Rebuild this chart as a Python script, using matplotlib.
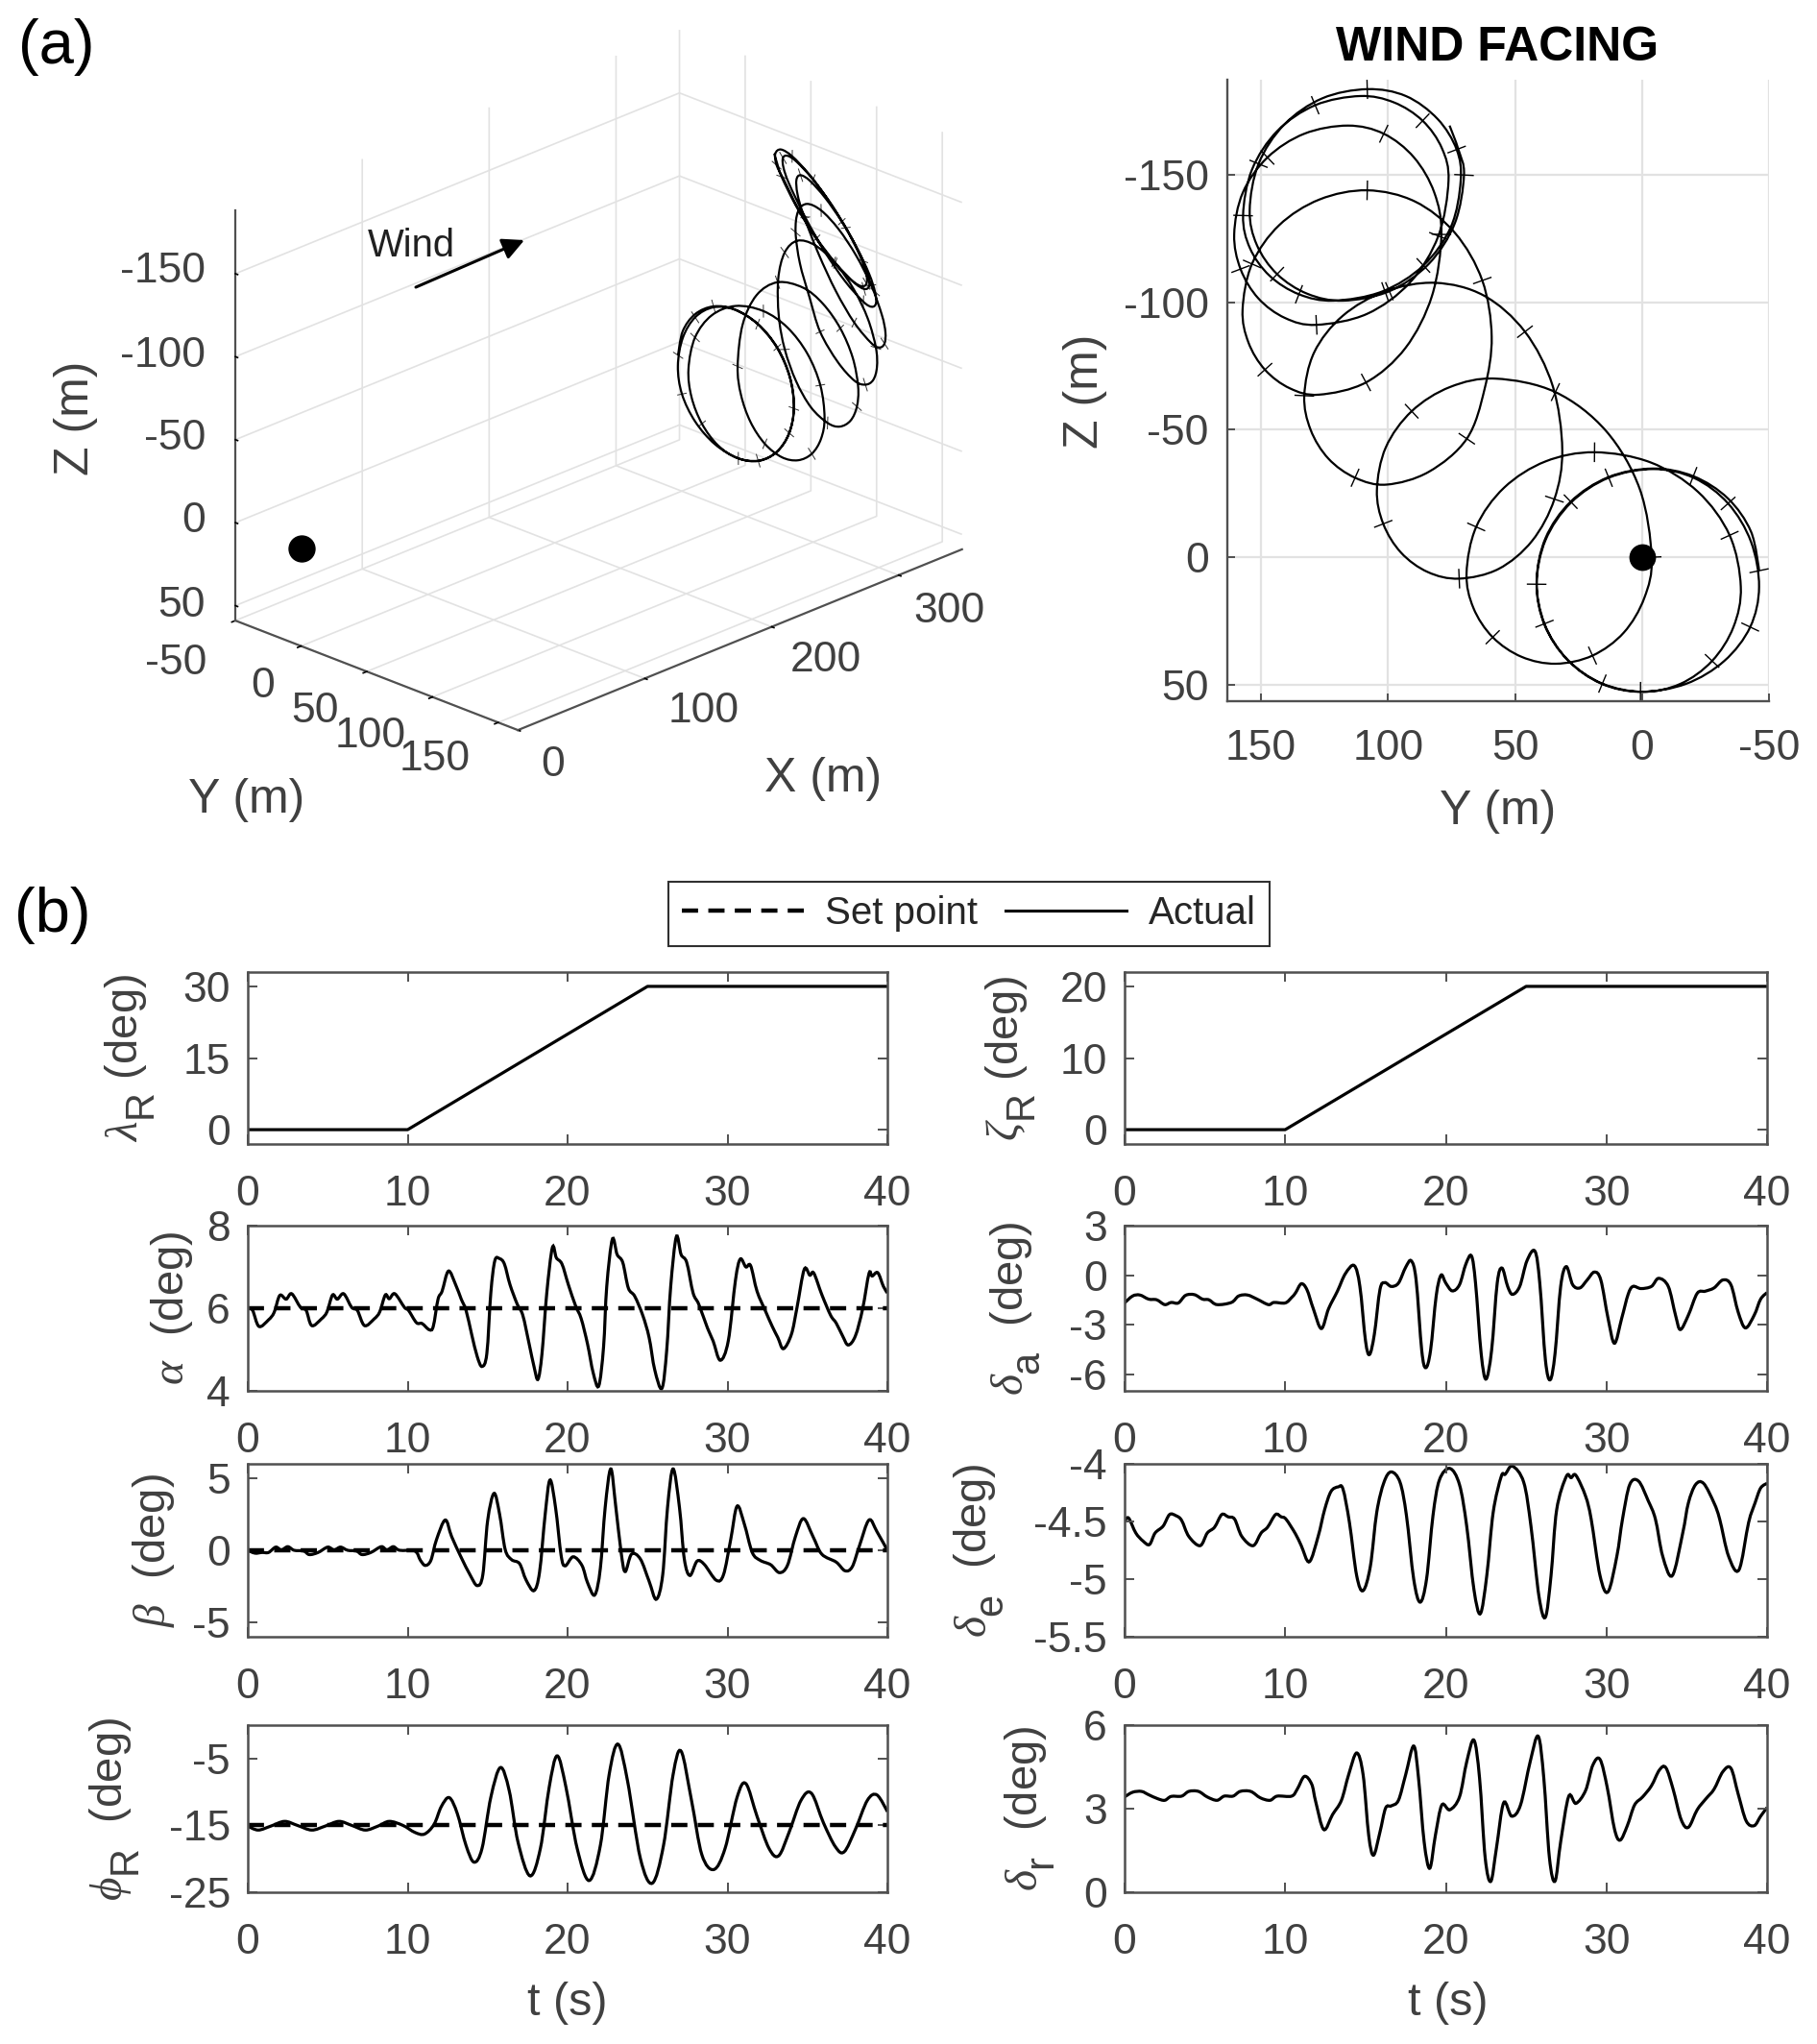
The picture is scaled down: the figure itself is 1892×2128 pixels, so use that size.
import numpy as np
import matplotlib
matplotlib.use('Agg')
import matplotlib.pyplot as plt
import matplotlib._mathtext as mathtext_internal
from matplotlib.patches import FancyArrowPatch, PathPatch
from matplotlib.path import Path
from matplotlib.lines import Line2D
from matplotlib.ticker import FormatStrFormatter
from mpl_toolkits.mplot3d import proj3d

plt.rcParams['font.family'] = ['Liberation Sans', 'DejaVu Sans']
plt.rcParams['mathtext.fontset'] = 'custom'
plt.rcParams['mathtext.rm'] = 'Liberation Sans'
plt.rcParams['mathtext.it'] = 'Liberation Serif:italic'
plt.rcParams['axes.unicode_minus'] = False
mathtext_internal.SHRINK_FACTOR = 0.88
mathtext_internal.FontConstantsBase.sub1 = 0.9

W, H = 1892, 2128

# flight path
path_y = [-46.1,-42.9,-33.8,-20.2,-4.2,13.3,28.1,38,41.5,38.4,29.5,16.3,.6,-17.3,-32.4,-42.6,
          -46.1,-42.9,-33.9,-20.5,-4.6,13.1,28,38,41.5,38.3,29.2,15.6,-.4,-15.1,-27.6,-36,
          -38.9,-34.5,-22,-3.4,18.7,38,54.3,65.3,69.1,66.4,58.8,47.4,33.9,19.5,7.2,-.9,
          -3.8,.9,14.2,34.1,57.7,75.6,90.7,100.9,104.4,101.9,94.9,84.4,72,56.5,43.3,34.5,
          31.4,35.2,46.1,62.3,81.5,101.2,117.9,129.1,133,130.5,123.5,113,100.6,84,69,62,
          59.2,62.9,73.6,89.4,108.2,127,142.9,153.6,157.3,155,148.5,138.7,127.2,108.7,93.1,82.7,
          79,81.8,89.8,101.7,115.8,133,147.5,157.2,160.6,158.1,151.1,140.6,128.2,108.3,91.4,80.2,
          76.2,78.8,86.4,97.7,111,128.7,143.6,153.6,157.1,154.4,146.7,135.1,121.5,102.3,86.1,75.2,
          71.4,73,80.5,93,108.2,125.9,140.9,151,154.5,151.7,143.7,131.8,117.7,99.5,84,73.7,
          70.1,72.3,75.8]
path_z = [5.3,-10.1,-23.1,-31.8,-34.8,-31.4,-21.8,-7.5,9.5,26.1,40.1,49.5,52.8,49.7,40.7,27.4,
          11.6,-6.1,-21.1,-31.1,-34.6,-31.2,-21.4,-6.7,10.6,26.8,40.4,49.6,52.8,49.7,40.7,27.4,
          11.6,-8.6,-25.7,-37.2,-41.2,-37.6,-27.3,-11.9,6.3,19.9,31.4,39.1,41.8,38.6,29.6,16,
          0,-26.8,-49.6,-64.8,-70.1,-66.8,-57.3,-43.1,-26.4,-13.1,-1.8,5.8,8.4,4.6,-6.4,-22.8,
          -42.2,-67.3,-88.5,-102.7,-107.7,-104.3,-94.7,-80.4,-63.4,-50,-38.7,-31.2,-28.5,-33.5,-46.5,-66,
          -86.6,-108.6,-127.2,-139.6,-144,-140.4,-130.3,-115.1,-97.1,-84.3,-73.6,-66.3,-63.8,-68.6,-82.2,-102.6,
          -126.7,-143.1,-156.9,-166.2,-169.4,-166.2,-156.9,-143.1,-126.7,-113.1,-101.6,-93.9,-91.2,-95.5,-107.8,-126.1,
          -147.8,-160.5,-171.3,-178.5,-181,-177.4,-167.3,-152.1,-134.1,-121.3,-110.5,-103.2,-100.7,-104.3,-114.5,-129.8,
          -147.8,-160,-172,-181,-183.7,-180.1,-169.8,-154.4,-136.2,-122.6,-111.1,-103.4,-100.7,-104.4,-115.1,-131.1,
          -150,-160,-169.4]
path_x = [344.9,345.2,345.6,346,346.2,346.3,346.2,345.8,345.5,344.9,344.4,344.1,344,344,344.1,344.3,
          344.7,345.3,345.7,346,346.2,346.3,346.2,345.9,345.4,344.8,344.4,344.1,344,344.1,344.5,345,
          345.6,346.2,346.4,346,345,343.9,342.7,341.6,341,341,341.6,342.5,343.8,345.3,346.7,347.6,
          348,347,344.2,340.2,335.9,333,331,330.2,330.9,332.5,334.8,337.2,340.4,343.3,345.3,345.5,
          344,339.6,333.4,326.6,320.7,316.2,313.4,313,315.3,318.7,323,327.7,331.9,335.9,337.6,336.3,
          331.8,324.6,315.4,306,297.8,292,289.3,290.3,294.8,300,306,312.2,317.6,323.4,325.1,322.1,
          314.3,306.5,297.4,288.3,281.1,275.3,273.4,275.5,281.5,288.6,296.6,304.2,310.4,316.6,318,314.3,
          305.7,298.6,290.3,282.3,275.7,270.3,269.2,272.7,280.1,287.3,295.6,303.6,310.2,315.9,317.1,314,
          306.9,299.2,290.4,281.9,275,269.8,269.1,272.9,280.5,288.2,296.8,305,311.6,316.7,317.5,313.8,
          306.1,300.5,294.4]
tick_every = 3
tick_half_len = 3.6

# time histories
t_ramp = [0, 10, 25, 40]
lambda_r = [0, 0, 30, 30]
zeta_r = [0, 0, 20, 20]

t_alpha = [0,.3,.7,1.3,1.65,2,2.4,2.75,3.3,3.65,4,4.6,4.95,5.3,5.6,6,6.5,6.85,7.3,7.9,8.25,8.6,8.85,9.2,9.8,10.05,10.55,10.9,11.35,11.6,11.9,12.15,12.55,13,13.35,13.65,14,14.35,14.65,14.95,15.2,15.45,15.75,16.05,16.4,16.85,17.2,17.6,17.9,18.15,18.4,18.7,19.05,19.3,19.65,20.05,20.5,20.85,21.25,21.6,21.95,22.25,22.45,22.8,23.1,23.45,23.8,24.2,24.7,25.1,25.45,25.9,26.2,26.45,26.8,27.1,27.45,27.85,28.2,28.75,29.1,29.55,30.05,30.5,30.8,31.15,31.45,31.85,32.4,32.8,33.15,33.5,34,34.35,34.8,35.15,35.4,35.9,36.45,36.8,37.2,37.55,38,38.45,38.85,39.05,39.4,39.75,40]
alpha = [6,5.95,5.56,5.72,5.9,6.31,6.22,6.35,6.02,5.95,5.58,5.74,5.91,6.32,6.22,6.35,6.02,5.95,5.58,5.74,5.91,6.32,6.23,6.35,6.02,5.95,5.65,5.63,5.48,5.56,6.22,6.41,6.9,6.57,6.22,5.95,5.37,4.83,4.59,4.9,6.37,7.15,7.2,7.07,6.57,6.1,5.83,5.13,4.59,4.28,4.9,6.37,7.47,7.22,7.07,6.57,6.06,5.75,5.13,4.44,4.12,5.06,6.53,7.67,7.3,7.11,6.49,6.29,5.83,5.29,4.51,4.06,4.98,6.53,7.73,7.3,7.11,6.37,6.1,5.52,5.21,4.74,5.21,6.68,7.19,7,7.03,6.41,5.91,5.56,5.29,5.02,5.37,6.02,6.94,6.8,6.85,6.33,5.83,5.64,5.33,5.11,5.33,5.98,6.84,6.78,6.86,6.53,6.37]

t_beta = [0,.45,.9,1.3,1.75,2.1,2.5,2.9,3.5,3.85,4.4,5,5.4,5.8,6.25,6.8,7.15,7.7,8.35,8.7,9.1,9.5,10.45,10.8,11.1,11.45,11.8,12.35,12.75,13.35,13.9,14.35,14.7,15,15.4,15.75,16.1,16.5,17,17.4,17.9,18.25,18.6,18.9,19.25,19.6,19.85,20.35,20.9,21.25,21.7,22.05,22.35,22.7,23,23.35,23.6,24,24.55,25.1,25.55,25.95,26.25,26.6,27,27.3,27.65,28.1,28.55,29.3,29.75,30.2,30.6,31.05,31.55,32.05,32.7,33.25,33.75,34.25,34.75,35.35,35.9,36.8,37.35,37.8,38.25,38.85,39.35,40]
beta = [0,-.2,-.15,-.15,.22,.02,.25,0,-.05,-.3,-.15,.22,.02,.22,0,-.05,-.3,-.15,.25,.02,.25,0,-.05,-.7,-1.05,-.7,.73,2.1,.95,-.5,-1.7,-2.45,-1.7,2.05,3.95,2.5,.05,-.65,-.93,-2.05,-2.8,-1.5,2.5,4.88,2.95,-.38,-1.08,-.45,-1.05,-2.25,-3.1,-1.25,2.95,5.65,3.17,-.15,-1.48,-.27,-.6,-2.15,-3.4,-1.7,2.95,5.65,2.95,-.6,-1.75,-.75,-.98,-2.08,-1.7,.73,3.06,1.84,-.15,-.7,-1,-1.55,-1.05,.95,2.2,.95,-.27,-.82,-1.42,-1.15,.3,2.1,1.29,0]

t_phi = [0,.65,1.45,2.3,3.1,4,4.85,5.7,6.5,7.35,8.15,8.85,9.7,10.45,11.05,11.65,12.1,12.6,13.1,13.65,14.15,14.65,15.2,15.8,16.35,16.9,17.65,18.3,18.85,19.35,19.9,20.6,21.35,22.05,22.6,23.15,23.75,24.55,25.3,26,26.6,27.1,27.75,28.4,29.15,29.85,30.6,31.15,31.85,32.6,33.2,33.85,34.6,35.25,36,36.75,37.3,38,38.75,39.35,40]
phi_r = [-15.1,-15.7,-15.1,-14.4,-15,-15.7,-15.1,-14.4,-15,-15.7,-15.1,-14.4,-15,-16.05,-16.3,-14.85,-12.2,-10.85,-13.2,-18,-20.5,-18.45,-10.8,-6.35,-9.8,-17.5,-22.55,-18.45,-9.3,-4.6,-9.3,-18.45,-23.25,-18,-7.4,-2.85,-8.35,-19.9,-23.65,-18,-7.4,-3.9,-11.25,-19.4,-21.6,-18.45,-10.8,-8.75,-13.65,-18.45,-19.55,-16.05,-11.25,-10.2,-14.6,-18.2,-18.95,-15.6,-11.25,-10.45,-12.95]

t_da = [0,.5,.95,1.5,2,2.5,2.9,3.35,3.8,4.35,4.85,5.25,5.75,6.65,7.1,7.65,8.25,8.95,9.3,10,10.4,10.65,11,11.35,11.75,12.25,12.7,13.25,13.75,14.3,14.65,15,15.25,15.55,15.9,16.2,16.6,17.05,17.5,17.85,18.15,18.5,18.75,19.05,19.4,19.7,20,20.4,20.85,21.25,21.6,21.85,22.2,22.5,22.85,23.2,23.5,23.85,24.15,24.6,25.05,25.55,25.85,26.2,26.5,26.8,27.15,27.5,27.9,28.35,28.8,29.25,29.65,30.1,30.5,30.95,31.35,31.65,32.15,32.8,33.25,33.85,34.3,34.6,35.1,35.65,36.15,36.7,37.25,37.75,38.2,38.65,39.2,39.6,40]
delta_a = [-1.68,-1.26,-1.2,-1.45,-1.49,-1.78,-1.65,-1.68,-1.22,-1.18,-1.45,-1.49,-1.78,-1.65,-1.26,-1.2,-1.45,-1.78,-1.65,-1.68,-1.35,-1.06,-.52,-.87,-2.03,-3.23,-2.03,-.97,.1,.58,-.68,-3.97,-4.8,-3.58,-.87,-.45,-.68,-.48,.48,.87,-.29,-4.55,-5.6,-4.55,-1.26,0,-.48,-.95,-.58,.68,1.16,-.48,-4.74,-6.29,-4.55,-.48,.43,-.68,-1.16,-.68,.87,1.45,-.48,-5.13,-6.33,-4.74,-.68,.52,-.58,-.77,-.29,.19,-.29,-2.61,-4.12,-2.61,-1.16,-.68,-.81,-.68,-.19,-.68,-2.42,-3.29,-2.42,-1.1,-.97,-.77,-.29,-.58,-2.23,-3.19,-2.42,-1.45,-1.06]

t_de = [0,.25,.7,1.15,1.55,1.9,2.4,2.8,3.2,3.55,4,4.7,5.15,5.6,6.05,6.45,6.85,7.3,8,8.5,8.9,9.4,9.75,10.05,10.65,11,11.5,12.05,12.45,12.85,13.3,13.6,14,14.45,14.85,15.3,15.7,16.15,16.6,17.15,17.55,18,18.4,18.8,19.2,19.6,20.25,20.85,21.3,21.75,22.15,22.55,22.95,23.45,23.7,24.15,24.85,25.3,25.8,26.2,26.55,26.9,27.5,27.8,28.1,28.7,29.05,29.6,30.1,30.65,31,31.45,32,32.6,33.05,33.5,34.1,34.75,35.1,35.55,36.05,36.7,37.05,37.6,38.25,38.85,39.25,39.6,40]
delta_e = [-4.5,-4.47,-4.6,-4.67,-4.7,-4.6,-4.54,-4.44,-4.45,-4.49,-4.63,-4.71,-4.6,-4.55,-4.44,-4.46,-4.48,-4.63,-4.71,-4.6,-4.55,-4.44,-4.46,-4.48,-4.61,-4.71,-4.85,-4.63,-4.4,-4.24,-4.2,-4.22,-4.51,-4.97,-5.1,-4.89,-4.42,-4.16,-4.07,-4.16,-4.45,-5,-5.2,-5,-4.45,-4.14,-4.04,-4.18,-4.54,-5.09,-5.3,-4.97,-4.42,-4.11,-4.09,-4.02,-4.16,-4.54,-5.15,-5.33,-4.97,-4.4,-4.11,-4.12,-4.1,-4.28,-4.48,-4.97,-5.11,-4.8,-4.48,-4.18,-4.15,-4.32,-4.48,-4.8,-4.97,-4.6,-4.34,-4.18,-4.17,-4.34,-4.48,-4.8,-4.92,-4.51,-4.34,-4.21,-4.17]

t_dr = [0,.5,1.05,1.5,2.05,2.5,2.9,3.55,4,4.6,5.15,5.75,6.2,6.75,7.2,7.85,8.45,9.05,9.5,10.4,10.75,11.2,11.65,11.9,12.4,12.95,13.5,13.95,14.45,14.85,15.2,15.5,15.9,16.25,16.6,17.05,17.5,18,18.3,18.65,19,19.35,19.75,20.25,20.85,21.3,21.75,22.1,22.45,22.8,23.15,23.6,24.1,24.65,25.25,25.75,26.1,26.45,26.8,27.15,27.65,28.1,28.7,29.15,29.6,30.05,30.5,30.85,31.3,31.75,32.25,32.8,33.3,33.7,34.15,34.65,35.1,35.65,36.2,36.7,37.25,37.75,38.2,38.7,39.2,39.6,40]
delta_r = [3.42,3.59,3.62,3.5,3.36,3.3,3.44,3.45,3.62,3.62,3.42,3.3,3.45,3.45,3.62,3.62,3.39,3.3,3.45,3.45,3.7,4.16,3.88,3.25,2.25,2.79,3.3,4.22,5,4.22,2.04,1.33,2.16,3.02,3.1,3.3,4.22,5.25,4.1,1.81,.86,2.04,3.13,2.96,3.42,4.68,5.46,4.1,1.24,.39,1.58,3.21,2.73,3.13,4.68,5.6,4.1,1.24,.4,1.81,3.44,3.19,3.65,4.56,4.77,3.76,2.27,1.87,2.39,3.13,3.42,3.82,4.39,4.47,3.7,2.61,2.33,2.96,3.36,3.7,4.33,4.45,3.53,2.56,2.39,2.73,3.04]

set_alpha = 6
set_beta = 0
set_phi = -15

x_tick_labels = ['0', '100', '200', '300']
y_tick_labels = ['-50', '0', '50', '100', '150']
z_tick_labels = ['-150', '-100', '-50', '0', '50']

TXT = '#404040'
EDGE = '#505050'
GRID = '#e2e2e2'
FS = 32


def fx(x):
    return x / W


def fy(y):
    return 1 - y / H


def rect(x0, x1, y0, y1):
    return [fx(x0), fy(y1), fx(x1) - fx(x0), (y1 - y0) / H]


def curve(xs, ys):
    # same points, stroked with bezier segments instead of straight chords
    p = np.column_stack([xs, ys]).astype(float)
    m = np.zeros_like(p)
    m[1:-1] = (p[2:] - p[:-2]) / 6
    verts, codes = [p[0]], [Path.MOVETO]
    for i in range(len(p) - 1):
        verts += [p[i] + m[i], p[i + 1] - m[i + 1], p[i + 1]]
        codes += [Path.CURVE4] * 3
    return Path(verts, codes)


fig = plt.figure(figsize=(W / 100, H / 100), dpi=100)

# ---- 3D view ----
side = 881
ax3 = fig.add_axes([171 / W, 1280 / H, side / W, side / H], projection='3d')
ax3.set_proj_type('ortho')
ax3.set_box_aspect((662, 411, 465))
ax3.view_init(elev=23.4, azim=-135.7)
ax3.set_xlim(0, 350)
ax3.set_ylim(165, -47)
ax3.set_zlim(59, -188)
ax3.set_xticks([0, 100, 200, 300])
ax3.set_yticks([-50, 0, 50, 100, 150])
ax3.set_zticks([-150, -100, -50, 0, 50])
ax3.xaxis.set_ticklabels([])
ax3.yaxis.set_ticklabels([])
ax3.zaxis.set_ticklabels([])
ax3.patch.set_alpha(0)
for axis in (ax3.xaxis, ax3.yaxis, ax3.zaxis):
    axis.set_pane_color((1, 1, 1, 0))
    axis.pane.set_edgecolor((1, 1, 1, 0))
    axis.line.set_color(EDGE)
    axis.line.set_linewidth(1.6)
    axis._axinfo['grid'].update(color=GRID, linewidth=1.2)
    axis._axinfo['tick'].update(inward_factor=0.1, outward_factor=0.0)
    axis._axinfo['tick']['linewidth'] = {True: 1.2, False: 1.2}
    axis._axinfo['tick']['color'] = EDGE
ax3.zaxis.set_ticks_position('lower')
for i in range(0, len(path_y) - 1, tick_every):
    j0, j1 = max(i - 1, 0), min(i + 1, len(path_y) - 1)
    dy, dz = path_y[j1] - path_y[j0], path_z[j1] - path_z[j0]
    n = np.hypot(dy, dz)
    ax3.plot([path_x[i], path_x[i]],
             [path_y[i] - dz / n * tick_half_len, path_y[i] + dz / n * tick_half_len],
             [path_z[i] + dy / n * tick_half_len, path_z[i] - dy / n * tick_half_len],
             color='#333333', lw=0.7)
ax3.plot([0], [0], [0], 'o', color='k', ms=19.4)
px3, py3, _ = proj3d.proj_transform(np.array(path_x), np.array(path_y), np.array(path_z), ax3.get_proj())
fig.add_artist(PathPatch(curve(px3, py3), transform=ax3.transData, fill=False, edgecolor='k', lw=1.6))

for lab, (x, y) in zip(x_tick_labels, [(576, 796), (733, 741), (860, 688), (988, 636)]):
    fig.text(fx(x), fy(y), lab, ha='center', va='center', fontsize=FS, color=TXT)
for lab, (x, y) in zip(y_tick_labels, [(183, 690), (274, 715), (328, 740), (386, 767), (453, 791)]):
    fig.text(fx(x), fy(y), lab, ha='center', va='center', fontsize=FS, color=TXT)
for lab, y in zip(z_tick_labels, [282, 370, 456, 542, 630]):
    fig.text(fx(214), fy(y), lab, ha='right', va='center', fontsize=FS, color=TXT)

fig.text(fx(79), fy(435), 'Z (m)', rotation=90, ha='center', va='center', fontsize=36, color=TXT)
fig.text(fx(257), fy(833), 'Y (m)', ha='center', va='center', fontsize=36, color=TXT)
fig.text(fx(857), fy(811), 'X (m)', ha='center', va='center', fontsize=36, color=TXT)
fig.text(fx(428), fy(256), 'Wind', ha='center', va='center', fontsize=28.8, color='#202020')
fig.add_artist(FancyArrowPatch((fx(433), fy(299)), (fx(546), fy(250)), transform=fig.transFigure,
                               arrowstyle='-|>', mutation_scale=34, lw=2.2, color='k',
                               shrinkA=0, shrinkB=0))

# ---- wind facing view ----
ax2 = fig.add_axes(rect(1278, 1842, 83, 730))
ax2.add_patch(PathPatch(curve(path_y, path_z), fill=False, edgecolor='k', lw=1.6))
for i in range(0, len(path_y) - 1, tick_every):
    j0, j1 = max(i - 1, 0), min(i + 1, len(path_y) - 1)
    dy, dz = path_y[j1] - path_y[j0], path_z[j1] - path_z[j0]
    n = np.hypot(dy, dz)
    ax2.plot([path_y[i] - dz / n * tick_half_len, path_y[i] + dz / n * tick_half_len],
             [path_z[i] + dy / n * tick_half_len, path_z[i] - dy / n * tick_half_len],
             color='k', lw=1.0)
ax2.plot([0], [0], 'o', color='k', ms=19)
ax2.set_xlim(163.3, -50)
ax2.set_ylim(56.5, -187.4)
ax2.set_xticks([150, 100, 50, 0, -50])
ax2.set_yticks([-150, -100, -50, 0, 50])
ax2.grid(True, color=GRID, lw=1.6)
ax2.set_axisbelow(True)
ax2.spines['top'].set_visible(False)
ax2.spines['right'].set_visible(False)
for s in ('left', 'bottom'):
    ax2.spines[s].set_color(EDGE)
    ax2.spines[s].set_linewidth(1.7)
ax2.tick_params(direction='in', length=6, width=1.4, color=EDGE, labelcolor=TXT, labelsize=FS, pad=21)
ax2.tick_params(axis='y', pad=14)
fig.text(fx(1130), fy(407), 'Z (m)', rotation=90, ha='center', va='center', fontsize=36, color=TXT)
fig.text(fx(1560), fy(845), 'Y (m)', ha='center', va='center', fontsize=36, color=TXT)
fig.text(fx(1559), fy(50), 'WIND FACING', ha='center', va='center', fontsize=36, fontweight='bold', color='k')

fig.text(fx(59), fy(49), '(a)', ha='center', va='center', fontsize=47, color='k')
fig.text(fx(55), fy(953), '(b)', ha='center', va='center', fontsize=47, color='k')

# ---- time histories ----
rows = [(1012, 1191), (1276, 1448), (1524, 1704), (1796, 1970)]
xl, xr = (258, 924), (1171, 1840)


def panel(xs, ys, t, v, ylim, yticks, label, label_x, setpoint=None, straight=False):
    ax = fig.add_axes(rect(xs[0], xs[1], ys[0], ys[1]))
    if straight:
        ax.plot(t, v, color='k', lw=2.3)
    else:
        ax.add_patch(PathPatch(curve(t, v), fill=False, edgecolor='k', lw=2.3))
    if setpoint is not None:
        ax.plot([0, 40], [setpoint, setpoint], color='k', lw=3.2, dashes=(3.8, 2.4))
    ax.set_xlim(0, 40)
    ax.set_ylim(*ylim)
    ax.set_xticks([0, 10, 20, 30, 40])
    ax.set_yticks(yticks)
    ax.yaxis.set_major_formatter(FormatStrFormatter('%g'))
    ax.tick_params(direction='in', top=True, right=True, length=7, width=1.4, color=EDGE,
                   labelcolor=TXT, labelsize=FS, pad=23)
    ax.tick_params(axis='y', pad=13)
    for s in ax.spines.values():
        s.set_color(EDGE)
        s.set_linewidth(1.8)
    fig.text(fx(label_x), fy((ys[0] + ys[1]) / 2), label, rotation=90, ha='center', va='center',
             fontsize=34, color=TXT)
    return ax


panel(xl, rows[0], t_ramp, lambda_r, (-3, 33), [0, 15, 30], r'$\lambda_{\mathrm{R}}$ (deg)', 136, straight=True)
panel(xl, rows[1], t_alpha, alpha, (4, 8), [4, 6, 8], r'$\alpha$  (deg)', 179, set_alpha)
panel(xl, rows[2], t_beta, beta, (-6, 6), [-5, 0, 5], r'$\beta$  (deg)', 160, set_beta)
panel(xl, rows[3], t_phi, phi_r, (-25, 0), [-25, -15, -5], r'$\phi_{\mathrm{R}}$  (deg)', 120, set_phi)
panel(xr, rows[0], t_ramp, zeta_r, (-2, 22), [0, 10, 20], r'$\zeta_{\mathrm{R}}$ (deg)', 1053, straight=True)
panel(xr, rows[1], t_da, delta_a, (-7, 3), [-6, -3, 0, 3], r'$\delta_{\mathrm{a}}$  (deg)', 1058)
panel(xr, rows[2], t_de, delta_e, (-5.5, -4), [-5.5, -5, -4.5, -4], r'$\delta_{\mathrm{e}}$  (deg)', 1020)
panel(xr, rows[3], t_dr, delta_r, (0, 6), [0, 3, 6], r'$\delta_{\mathrm{r}}$  (deg)', 1073)

fig.text(fx(591), fy(2086), 't (s)', ha='center', va='center', fontsize=35, color=TXT)
fig.text(fx(1508), fy(2086), 't (s)', ha='center', va='center', fontsize=35, color=TXT)

handles = [Line2D([], [], color='k', lw=3.2, dashes=(3.8, 2.4)), Line2D([], [], color='k', lw=2.2)]
leg = fig.legend(handles, ['Set point', 'Actual'], ncol=2, loc='center', bbox_to_anchor=(fx(1009), fy(951.5)),
                 fontsize=29, frameon=True, fancybox=False, framealpha=1, edgecolor='#303030',
                 handlelength=3.15, handletextpad=0.55, columnspacing=0.7, borderpad=0.35, labelcolor='#262626')
leg.get_frame().set_linewidth(1.5)

fig.savefig('out.png', dpi=100)
